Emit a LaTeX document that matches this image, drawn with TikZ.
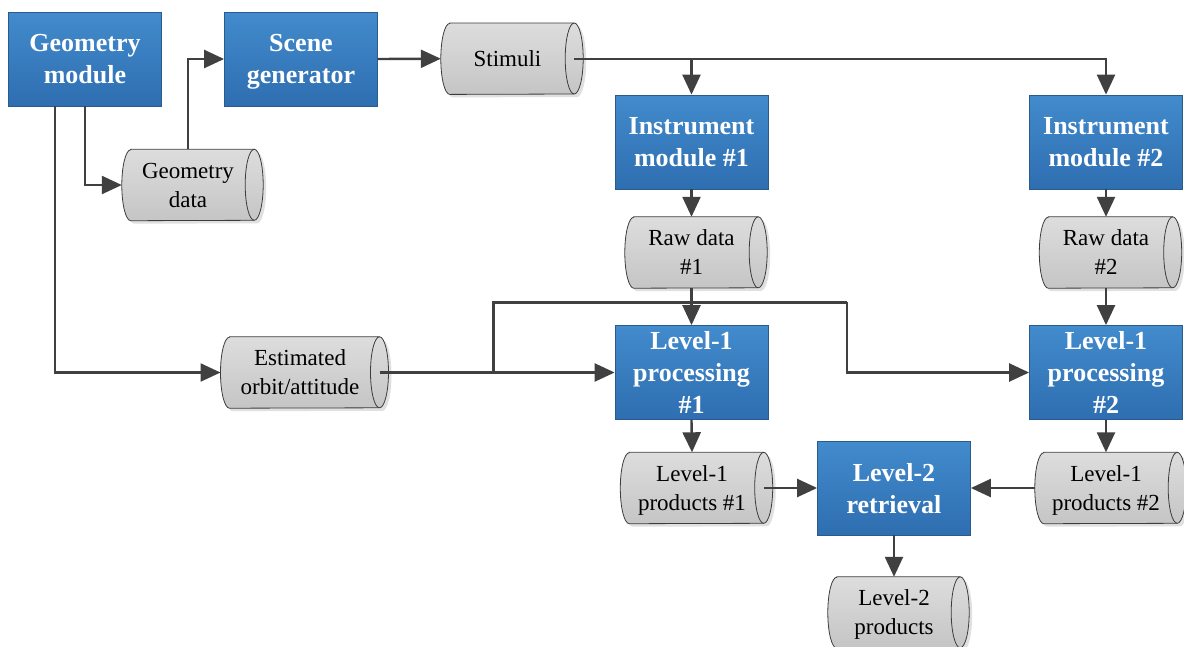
\documentclass[tikz,border=0pt]{standalone}
\usepackage{fontspec}
\setmainfont{Liberation Serif}
\usetikzlibrary{arrows.meta,calc,backgrounds}

\definecolor{boxtop}{HTML}{428BCC}
\definecolor{boxbot}{HTML}{2E6EB1}
\definecolor{boxedge}{HTML}{2B5B8A}
\definecolor{cyltop}{HTML}{DDDDDD}
\definecolor{cylbot}{HTML}{C5C5C5}
\definecolor{cyledge}{HTML}{3C3C3C}
\definecolor{linegray}{HTML}{404040}

\begin{document}
\begin{tikzpicture}[x=1pt,y=-1pt,
  proc/.style={draw=boxedge, line width=0.8pt, top color=boxtop, bottom color=boxbot,
    minimum width=153pt, minimum height=94pt, inner sep=0pt, align=center,
    text depth=0pt, text=white, font=\fontsize{26}{32}\selectfont\bfseries},
  store/.style={minimum height=71pt, inner sep=0pt, align=center, text depth=0pt,
    font=\fontsize{23}{29}\selectfont},
  cylbody/.style={draw=cyledge, line width=0.8pt, top color=cyltop, bottom color=cylbot},
  cylshadow/.style={fill=black, opacity=0.12},
  conn/.style={draw=linegray, line width=2.4pt, line join=miter,
    -{Triangle[length=20pt,width=18pt]}},
  wire/.style={draw=linegray, line width=2.4pt, line join=miter}
]
\useasboundingbox (0,0) rectangle (1184,646);

% processing blocks
\node[proc] (geom)  at (85,59)      {Geometry\\module};
\node[proc] (scene) at (301,59)     {Scene\\generator};
\node[proc] (inst1) at (691.5,142)  {Instrument\\module \#1};
\node[proc] (inst2) at (1106,142)   {Instrument\\module \#2};
\node[proc] (proc1) at (691.5,372.5){Level-1\\processing\\\#1};
\node[proc] (proc2) at (1106,372.5) {Level-1\\processing\\\#2};
\node[proc] (ret)   at (894,488)    {Level-2\\retrieval};

% data stores (west = outer edge, east = centre of the end cap)
\node[store, minimum width=133pt]   (stim)  at (507.5,58.7)  {Stimuli};
\node[store, minimum width=132pt]   (geod)  at (188,185)     {Geometry\\data};
\node[store, minimum width=133pt]   (raw1)  at (691.5,252.5) {Raw data\\\#1};
\node[store, minimum width=133pt]   (raw2)  at (1106,252.5)  {Raw data\\\#2};
\node[store, minimum width=158.6pt] (orbit) at (300,372.5)   {Estimated\\orbit/attitude};
\node[store, minimum width=143pt]   (lp1)   at (692,488)     {Level-1\\products \#1};
\node[store, minimum width=142pt]   (lp2)   at (1106,488)    {Level-1\\products \#2};
\node[store, minimum width=132pt]   (ltwo)  at (894,612.5)   {Level-2\\products};

% cylinder outlines behind the store labels
\begin{pgfonlayer}{background}
\foreach \n in {stim,geod,raw1,raw2,orbit,lp1,lp2,ltwo}{
  \fill[cylshadow]
    ($(\n.north west)+(12pt,-3pt)$) -- ($(\n.north east)+(3pt,-3pt)$)
    arc[start angle=90,end angle=-90,x radius=9pt,y radius=35.5pt]
    -- ($(\n.south west)+(12pt,-3pt)$)
    arc[start angle=270,end angle=90,x radius=9pt,y radius=35.5pt] -- cycle;
  \path[cylbody]
    ($(\n.north west)+(9pt,0pt)$) -- (\n.north east)
    arc[start angle=90,end angle=-90,x radius=9pt,y radius=35.5pt]
    -- ($(\n.south west)+(9pt,0pt)$)
    arc[start angle=270,end angle=90,x radius=9pt,y radius=35.5pt] -- cycle;
  \draw[draw=cyledge, line width=0.8pt] (\n.north east)
    arc[start angle=90,end angle=270,x radius=9pt,y radius=35.5pt];
}
\end{pgfonlayer}

% branch points of the orbit/attitude line
\coordinate (j1) at (493.3,302.3);
\coordinate (j2) at (846.7,302.3);

% connectors
\draw[conn] (geom.south) |- (geod.west);
\draw[conn] ([xshift=-30pt]geom.south) |- (orbit.west);
\draw[conn] (geod.north) |- (scene.west);
\draw[conn] (scene.east) -- (stim.west);
\draw[conn] (stim.east) -| (inst1.north);
\draw[conn] (stim.east) -| (inst2.north);
\draw[conn] (inst1.south) -- (raw1.north);
\draw[conn] (inst2.south) -- (raw2.north);
\draw[conn] (raw1.south) -- (proc1.north);
\draw[conn] (raw2.south) -- (proc2.north);
\draw[conn] (orbit.east) -- (proc1.west);
\draw[wire] (j1 |- orbit.east) -- (j1) -- (j2);
\draw[conn] (j2) |- (proc2.west);
\draw[conn] (proc1.south) -- (lp1.north);
\draw[conn] (proc2.south) -- (lp2.north);
\draw[conn] (lp1.east) -- (ret.west);
\draw[conn] (lp2.west) -- (ret.east);
\draw[conn] (ret.south) -- (ltwo.north);
\end{tikzpicture}
\end{document}
